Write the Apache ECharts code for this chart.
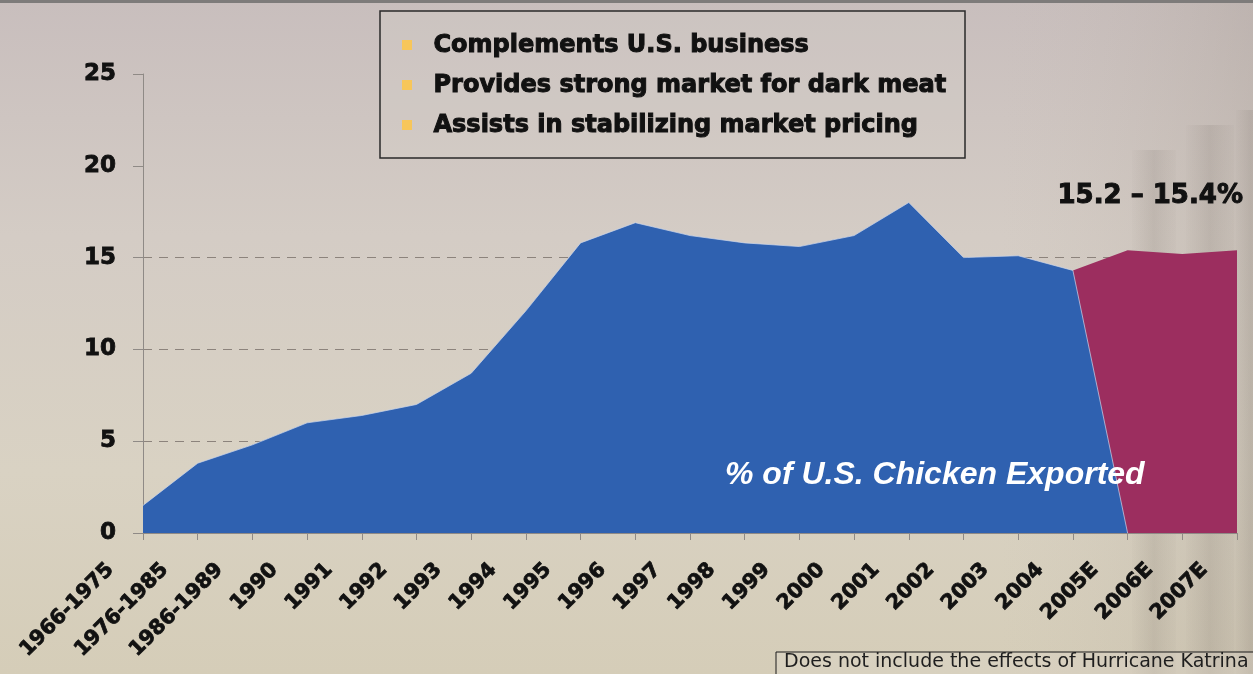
<!DOCTYPE html>
<html>
<head>
<meta charset="utf-8">
<script src="https://cdn.jsdelivr.net/npm/echarts@6/dist/echarts.min.js"></script>
<style>
  html, body { margin: 0; padding: 0; }
  #chart { width: 1253px; height: 674px; }
</style>
</head>
<body>
<div id="chart"></div>
<script>
// Category labels along the x axis
const categories = [
  '1966-1975', '1976-1985', '1986-1989', '1990', '1991', '1992', '1993',
  '1994', '1995', '1996', '1997', '1998', '1999', '2000', '2001', '2002',
  '2003', '2004', '2005E', '2006E', '2007E'
];

// Share of U.S. chicken production exported (%), historical
const exportedShare = [
  1.5, 3.8, 4.8, 6.0, 6.4, 7.0, 8.7, 12.1, 15.8, 16.9, 16.2,
  15.8, 15.6, 16.2, 18.0, 15.0, 15.1, 14.3, 0, null, null
];

// Projected share (%), drawn behind the historical area
const projectedShare = [
  null, null, null, null, null, null, null, null, null, null, null,
  null, null, null, null, null, null, 14.3, 15.4, 15.2, 15.4
];

// Value axis ticks
const yTicks = [0, 5, 10, 15, 20, 25];

const bullets = [
  'Complements U.S. business',
  'Provides strong market for dark meat',
  'Assists in stabilizing market pricing'
];

const chart = echarts.init(document.getElementById('chart'), null, { renderer: 'canvas' });

const BOLD = 'DejaVu Sans';
const INK = '#111';
const gridColor = '#8c837c';

// A soft vertical column shape for the backdrop
function column(x, y, w) {
  return {
    type: 'rect', z: -8, silent: true,
    shape: { x: x, y: y, width: w, height: 674 - y },
    style: {
      fill: new echarts.graphic.LinearGradient(0, 0, 1, 0, [
        { offset: 0, color: 'rgba(120,110,100,0.02)' },
        { offset: 0.5, color: 'rgba(110,100,92,0.15)' },
        { offset: 1, color: 'rgba(120,110,100,0.03)' }
      ])
    }
  };
}

// Background, faint columns, the bullet box and the text annotations
const graphics = [
  {
    type: 'rect', z: -10, silent: true,
    shape: { x: 0, y: 0, width: 1253, height: 674 },
    style: {
      fill: new echarts.graphic.LinearGradient(0, 0, 0, 1, [
        { offset: 0, color: '#c8bebd' },
        { offset: 0.35, color: '#d4ccc5' },
        { offset: 0.7, color: '#d9d2c3' },
        { offset: 1, color: '#d5cdb8' }
      ])
    }
  },
  {
    type: 'rect', z: -9, silent: true,
    shape: { x: 1000, y: 0, width: 253, height: 674 },
    style: {
      fill: new echarts.graphic.LinearGradient(0, 0, 1, 0, [
        { offset: 0, color: 'rgba(200,190,180,0)' },
        { offset: 1, color: 'rgba(165,155,145,0.3)' }
      ])
    }
  },
  column(1132, 150, 44),
  column(1186, 125, 48),
  column(1236, 110, 30),
  { type: 'rect', z: -8, silent: true, shape: { x: 0, y: 0, width: 1253, height: 3 },
    style: { fill: '#7d7b7a' } },
  {
    type: 'rect', z: 5,
    shape: { x: 380, y: 11, width: 585, height: 147 },
    style: { fill: 'rgba(215,210,205,0.25)', stroke: '#2a2a2a', lineWidth: 1.5 }
  },
  {
    type: 'rect', z: 5,
    shape: { x: 776, y: 652, width: 480, height: 26 },
    style: { fill: 'rgba(225,220,210,0.3)', stroke: '#1a1a1a', lineWidth: 1 }
  },
  {
    type: 'text', z: 6, left: 784, top: 653,
    style: { text: 'Does not include the effects of Hurricane Katrina',
      font: '19px "DejaVu Sans"', fill: '#1e1e1e' }
  },
  {
    type: 'text', z: 6, left: 1057, top: 183,
    style: { text: '15.2 \u2013 15.4%', font: 'bold 26px "DejaVu Sans"', fill: INK,
      stroke: INK, lineWidth: 1 }
  },
  {
    type: 'text', z: 6, left: 725, top: 459,
    style: { text: '% of U.S. Chicken Exported',
      font: 'italic bold 32px "Liberation Sans"', fill: '#ffffff' }
  }
];

bullets.forEach(function (t, i) {
  const cy = 45 + i * 40;
  graphics.push({
    type: 'rect', z: 6,
    shape: { x: 402, y: cy - 5, width: 10, height: 10 },
    style: { fill: '#f7c65a' }
  });
  graphics.push({
    type: 'text', z: 6, left: 433, top: cy - 12,
    style: { text: t, font: 'bold 24px "DejaVu Sans"', fill: INK, stroke: INK, lineWidth: 1 }
  });
});

const option = {
  backgroundColor: 'transparent',
  animation: false,
  graphic: graphics,
  grid: { left: 143, right: 16, top: 74, bottom: 141, containLabel: false },
  xAxis: {
    type: 'category',
    data: categories,
    boundaryGap: false,
    axisLine: { show: true, lineStyle: { color: '#8f8a86', width: 1 } },
    axisTick: { show: true, interval: 0, length: 7, lineStyle: { color: '#8f8a86' } },
    axisLabel: {
      interval: 0, rotate: 45, margin: 1,
      padding: [0, 46, 0, 0],
      fontFamily: BOLD, fontWeight: 'bold', fontSize: 20.5, color: INK,
      textBorderColor: INK, textBorderWidth: 0.8
    },
    splitLine: { show: false }
  },
  yAxis: {
    type: 'value',
    min: yTicks[0], max: yTicks[yTicks.length - 1], interval: 5,
    axisLine: { show: true, lineStyle: { color: '#8f8a86', width: 1 } },
    axisTick: { show: true, inside: false, length: 10, lineStyle: { color: '#8f8a86' } },
    axisLabel: {
      margin: 27,
      fontFamily: BOLD, fontWeight: 'bold', fontSize: 23, color: INK,
      textBorderColor: INK, textBorderWidth: 0.8
    },
    splitLine: {
      show: true,
      lineStyle: {
        type: [9, 7],
        width: 1,
        color: yTicks.map(function (v) { return (v > 0 && v < 20) ? gridColor : 'rgba(0,0,0,0)'; })
      }
    }
  },
  series: [
    {
      name: 'Projected',
      type: 'line',
      data: projectedShare,
      symbol: 'none',
      connectNulls: false,
      lineStyle: { width: 0 },
      areaStyle: { color: '#9c2e5f', opacity: 1 },
      z: 2
    },
    {
      name: '% of U.S. Chicken Exported',
      type: 'line',
      data: exportedShare,
      symbol: 'none',
      connectNulls: false,
      lineStyle: { width: 1, color: 'rgba(205,215,235,0.7)' },
      areaStyle: { color: '#2f61b0', opacity: 1 },
      z: 3
    }
  ]
};

chart.setOption(option);
</script>
</body>
</html>
